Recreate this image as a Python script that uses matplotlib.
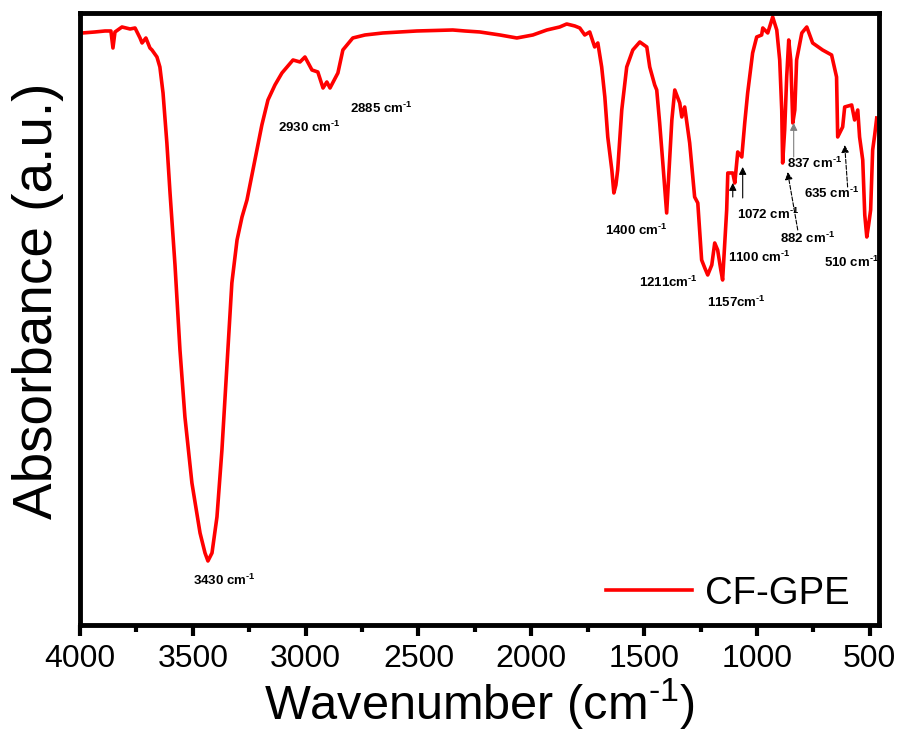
import matplotlib.pyplot as plt

plt.rcParams['font.family'] = ['Liberation Sans', 'DejaVu Sans']
plt.rcParams['mathtext.fontset'] = 'custom'
plt.rcParams['mathtext.rm'] = 'Liberation Sans'
plt.rcParams['mathtext.bf'] = 'Liberation Sans:bold'
plt.rcParams['mathtext.default'] = 'regular'

# spectrum (absorbance in arbitrary units)
wavenumber = [3990, 3934, 3889, 3863, 3854, 3845, 3814, 3778, 3756, 3734,
              3725, 3708, 3690, 3681, 3659, 3646, 3632, 3615, 3601, 3579,
              3557, 3535, 3504, 3468, 3446, 3433, 3415, 3393, 3371, 3349,
              3327, 3304, 3282, 3260, 3225, 3194, 3167, 3136, 3105, 3056,
              3025, 3003, 2972, 2946, 2923, 2906, 2892, 2857, 2835, 2791,
              2737, 2658, 2507, 2348, 2294, 2228, 2139, 2064, 1993, 1931,
              1874, 1843, 1807, 1785, 1763, 1741, 1719, 1705, 1688, 1674,
              1661, 1643, 1634, 1625, 1617, 1599, 1577, 1550, 1519, 1488,
              1475, 1453, 1444, 1431, 1417, 1400, 1391, 1377, 1364, 1342,
              1333, 1320, 1298, 1276, 1262, 1245, 1231, 1218, 1200, 1187,
              1174, 1160, 1152, 1134, 1129, 1107, 1098, 1085, 1067, 1054,
              1041, 1019, 1001, 979, 974, 952, 930, 912, 899, 890,
              886, 877, 868, 859, 850, 841, 832, 824, 801, 779,
              753, 709, 669, 647, 642, 620, 611, 580, 567, 553,
              545, 531, 522, 513, 505, 496, 487, 478, 469]
absorbance = [592, 593, 594, 594, 577, 593, 598, 596, 597, 587,
              582, 587, 577, 575, 568, 558, 532, 482, 432, 360,
              275, 208, 142, 92, 72, 64, 72, 108, 175, 258,
              342, 385, 408, 425, 465, 500, 525, 540, 552, 565,
              563, 568, 555, 553, 537, 543, 537, 552, 575, 587,
              590, 592, 594, 595, 594, 593, 590, 587, 590, 595,
              598, 601, 599, 597, 590, 593, 578, 582, 558, 528,
              488, 455, 432, 440, 455, 515, 558, 575, 583, 578,
              558, 540, 535, 502, 462, 412, 448, 505, 535, 522,
              508, 518, 482, 428, 422, 365, 357, 350, 360, 382,
              375, 355, 345, 415, 452, 452, 442, 473, 468, 502,
              532, 572, 588, 590, 597, 592, 608, 595, 565, 515,
              462, 495, 548, 585, 565, 502, 515, 565, 592, 598,
              582, 575, 570, 548, 488, 498, 518, 520, 505, 515,
              488, 465, 410, 388, 400, 415, 475, 490, 507]

fig = plt.figure(figsize=(9.05, 7.49), dpi=100)
ax = fig.add_axes([0.0884, 0.1656, 0.8826, 0.8164])

ax.plot(wavenumber, absorbance, color='red', lw=2.6, label='CF-GPE')

ax.set_xlim(4000, 460)
ax.set_ylim(0, 611.5)
ax.set_xticks([4000, 3500, 3000, 2500, 2000, 1500, 1000, 500])
ax.set_xticks([3750, 3250, 2750, 2250, 1750, 1250, 750], minor=True)
ax.set_yticks([])
ax.tick_params(axis='x', which='major', direction='out', length=8, width=3,
               labelsize=23, pad=6)
ax.tick_params(axis='x', which='minor', direction='out', length=5, width=3)
for s in ax.spines.values():
    s.set_linewidth(3.5)

ax.set_xlabel('Wavenumber (cm$^{\u2010 1}$)', fontsize=35, labelpad=2)
ax.set_ylabel('Absorbance (a.u.)', fontsize=39.5)
ax.yaxis.set_label_coords(-0.02, 0.53)

# peak labels
labels = [('3430', ' cm', 3499, 45), ('2930', ' cm', 3123, 498),
          ('2885', ' cm', 2804, 517), ('1400', ' cm', 1674, 395),
          ('1211', 'cm', 1524, 343), ('1157', 'cm', 1222, 323),
          ('1100', ' cm', 1129, 368), ('1072', ' cm', 1089, 411),
          ('882', ' cm', 899, 387), ('837', ' cm', 868, 462),
          ('635', ' cm', 793, 432), ('510', ' cm', 704, 363)]
for num, unit, x, y in labels:
    ax.text(x, y, num + unit + '$^{\\mathbf{\u20101}}$', fontsize=9.5,
            fontweight='bold', ha='left', va='center')

# arrows: (tail x, tail y, tip x, tip y, linestyle, colour)
arrows = [(1107, 428, 1107, 442, '-', 'black'),
          (1063, 427, 1063, 458, '-', 'black'),
          (837, 468, 837, 502, '-', 'grey'),
          (819, 395, 864, 453, '--', 'black'),
          (598, 438, 611, 480, '--', 'black')]
for x0, y0, x1, y1, ls, c in arrows:
    ax.annotate('', xy=(x1, y1), xytext=(x0, y0),
                arrowprops=dict(arrowstyle='-|>', color=c, lw=0.8, ls=ls,
                                mutation_scale=11, shrinkA=0, shrinkB=0))

ax.legend(loc='lower right', bbox_to_anchor=(0.997, -0.022), frameon=False,
          fontsize=27.5, handlelength=2.25, handletextpad=0.35,
          borderaxespad=0.3)

fig.savefig('out.png', dpi=100)
